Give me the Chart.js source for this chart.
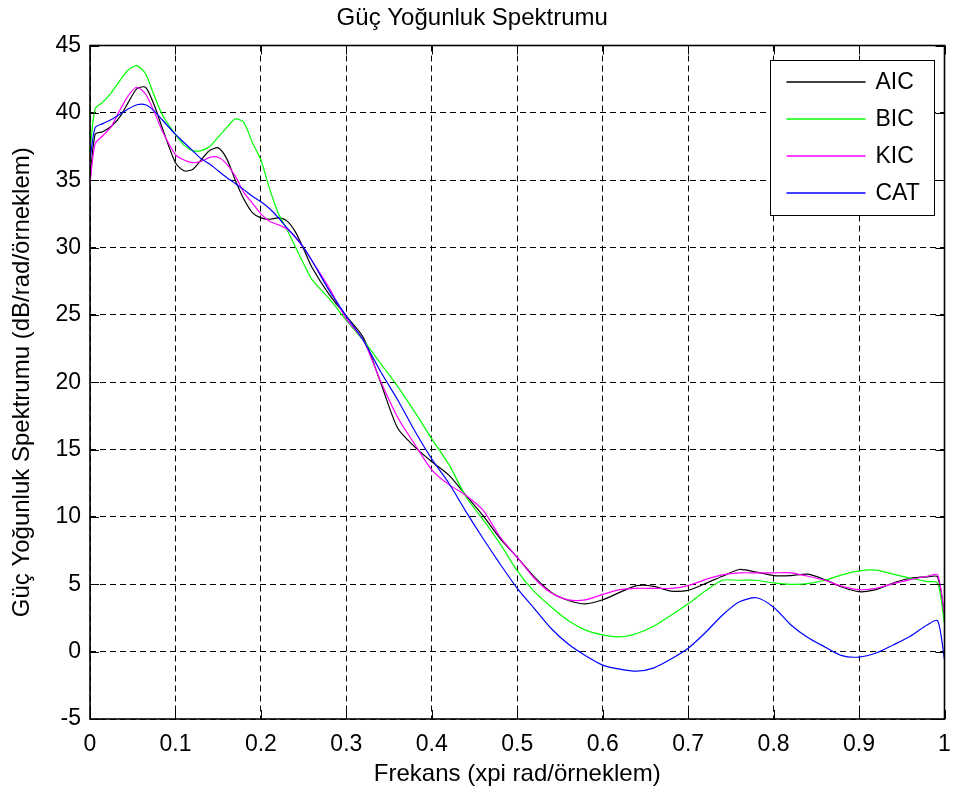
<!DOCTYPE html>
<html>
<head>
<meta charset="utf-8">
<script src="https://cdn.jsdelivr.net/npm/chart.js@4.4.0/dist/chart.umd.min.js"></script>
<style>
  html, body { margin: 0; padding: 0; background: #fff; }
</style>
</head>
<body>
<canvas id="psd" width="955" height="794"></canvas>
<script>
// frequency axis (x pi rad/sample)
const freq = [0, 0.006, 0.015, 0.025, 0.035, 0.045, 0.055, 0.065, 0.075, 0.085,
  0.1, 0.11, 0.12, 0.13, 0.14, 0.15, 0.16, 0.17, 0.18, 0.19, 0.2, 0.21, 0.22, 0.23, 0.24, 0.25, 0.26,
  0.28, 0.3, 0.32, 0.34, 0.36, 0.38, 0.4, 0.42, 0.44, 0.46, 0.48, 0.5, 0.52, 0.54, 0.56, 0.58,
  0.6, 0.62, 0.64, 0.66, 0.68, 0.7, 0.72, 0.74, 0.76, 0.78, 0.8, 0.82, 0.84, 0.86, 0.88,
  0.9, 0.92, 0.94, 0.96, 0.98, 0.992, 1.0];

// PSD values (dB/rad/sample) for each order selection criterion
const aic = [35.0, 38.4, 38.6, 39.0, 39.7, 40.8, 41.8, 41.9, 40.6, 38.8,
  36.3, 35.7, 35.8, 36.5, 37.2, 37.4, 36.6, 35.0, 33.6, 32.6, 32.2, 32.1, 32.2, 32.0, 31.2, 29.9, 28.5,
  26.5, 24.9, 23.3, 20.0, 16.6, 15.2, 14.1, 13.1, 11.6, 10.1, 8.4, 7.0, 5.55, 4.4, 3.8, 3.55,
  3.85, 4.4, 4.9, 4.85, 4.5, 4.55, 5.05, 5.6, 6.1, 5.9, 5.65, 5.65, 5.75, 5.35, 4.8,
  4.45, 4.6, 5.1, 5.45, 5.55, 5.55, 2.6];

const bic = [37.2, 40.3, 40.8, 41.5, 42.4, 43.2, 43.5, 42.9, 41.3, 39.8,
  38.4, 37.6, 37.2, 37.2, 37.5, 38.2, 38.9, 39.55, 39.3, 37.8, 36.5, 34.4, 32.6, 31.4, 30.1, 28.8, 27.6,
  26.2, 24.6, 23.1, 21.4, 19.7, 17.8, 15.8, 13.9, 11.5, 9.8, 8.0, 6.0, 4.45, 3.3, 2.3, 1.6,
  1.25, 1.1, 1.35, 1.9, 2.7, 3.55, 4.5, 5.3, 5.3, 5.3, 5.1, 5.0, 5.05, 5.3, 5.7,
  6.0, 6.05, 5.75, 5.45, 5.2, 5.1, 2.1];

const kic = [34.8, 37.7, 38.3, 39.0, 40.2, 41.3, 41.9, 41.4, 40.1, 38.6,
  36.9, 36.5, 36.3, 36.4, 36.7, 36.7, 36.2, 35.3, 34.1, 33.3, 32.5, 31.95, 31.7, 31.4, 30.8, 30.0, 29.0,
  27.0, 24.7, 23.1, 20.1, 17.4, 15.4, 13.5, 12.4, 11.6, 10.5, 8.5, 7.0, 5.45, 4.35, 3.85, 3.85,
  4.25, 4.6, 4.7, 4.7, 4.7, 4.9, 5.35, 5.7, 5.85, 5.85, 5.85, 5.85, 5.6, 5.3, 4.85,
  4.6, 4.7, 5.05, 5.35, 5.6, 5.7, 2.75];

const cat = [36.5, 38.9, 39.2, 39.5, 39.9, 40.3, 40.6, 40.6, 40.15, 39.45,
  38.4, 37.8, 37.2, 36.6, 36.2, 35.7, 35.2, 34.75, 34.3, 33.8, 33.4, 32.9, 32.25, 31.5, 30.8, 30.0, 29.0,
  26.8, 24.9, 23.1, 20.8, 18.7, 16.4, 14.3, 12.5, 10.4, 8.4, 6.5, 4.7, 3.2, 1.7, 0.55, -0.3,
  -1.0, -1.3, -1.45, -1.2, -0.55, 0.25, 1.4, 2.7, 3.7, 4.0, 3.3, 2.0, 1.05, 0.35, -0.3,
  -0.4, -0.1, 0.5, 1.15, 2.0, 2.3, -0.6];

const seriesNames = ['AIC', 'BIC', 'KIC', 'CAT'];
const seriesColors = ['#000000', '#00ff00', '#ff00ff', '#0000ff'];
const seriesValues = [aic, bic, kic, cat];

const FONT = 'Liberation Sans, Arial, Helvetica, sans-serif';
Chart.defaults.font.family = FONT;
Chart.defaults.color = '#000';

const pts = ys => freq.map((f, i) => ({x: f, y: ys[i]}));

// matlab style box, inside ticks and legend
const matlabFrame = {
  id: 'matlabFrame',
  afterDatasetsDraw(chart) {
    const {ctx, chartArea: a, scales: {x, y}} = chart;
    ctx.save();
    ctx.setLineDash([]);
    ctx.strokeStyle = '#000';
    ctx.lineWidth = 1;
    const tl = 9;
    ctx.beginPath();
    x.ticks.forEach(t => {
      const px = Math.round(x.getPixelForValue(t.value)) + 0.5;
      ctx.moveTo(px, a.bottom); ctx.lineTo(px, a.bottom - tl);
      ctx.moveTo(px, a.top); ctx.lineTo(px, a.top + tl);
    });
    y.ticks.forEach(t => {
      const py = Math.round(y.getPixelForValue(t.value)) + 0.5;
      ctx.moveTo(a.left, py); ctx.lineTo(a.left + tl, py);
      ctx.moveTo(a.right, py); ctx.lineTo(a.right - tl, py);
    });
    ctx.stroke();
    ctx.lineWidth = 1.6;
    ctx.strokeRect(a.left, a.top, a.right - a.left, a.bottom - a.top);

    // legend
    const bw = 164, bh = 155;
    const bx = Math.round(a.right - 11 - bw) + 0.5, by = Math.round(a.top + 14) + 0.5;
    ctx.fillStyle = '#fff';
    ctx.fillRect(bx, by, bw, bh);
    ctx.lineWidth = 1;
    ctx.strokeStyle = '#000';
    ctx.strokeRect(bx, by, bw, bh);
    ctx.font = '23px ' + FONT;
    ctx.textBaseline = 'middle';
    ctx.textAlign = 'left';
    seriesNames.forEach((name, i) => {
      const cy = Math.round(by + 21.5 + i * 37);
      ctx.strokeStyle = seriesColors[i];
      ctx.lineWidth = 1.3;
      ctx.beginPath();
      ctx.moveTo(bx + 16, cy); ctx.lineTo(bx + 95, cy);
      ctx.stroke();
      ctx.fillStyle = '#000';
      ctx.fillText(name, bx + 105, cy + 1);
    });
    ctx.restore();
  }
};

new Chart(document.getElementById('psd'), {
  type: 'line',
  data: {
    datasets: seriesNames.map((name, i) => ({
      label: name,
      data: pts(seriesValues[i]),
      borderColor: seriesColors[i],
      backgroundColor: seriesColors[i],
      borderWidth: 1.2,
      pointRadius: 0,
      tension: 0.25,
      fill: false,
      order: seriesNames.length - i
    }))
  },
  options: {
    responsive: false,
    animation: false,
    devicePixelRatio: 1,
    layout: {padding: {left: 0, right: 10.5, top: 0, bottom: 0}},
    plugins: {
      legend: {display: false},
      tooltip: {enabled: false},
      title: {
        display: true,
        text: 'Güç Yoğunluk Spektrumu',
        color: '#000',
        font: {size: 24, weight: 'normal', lineHeight: 1},
        padding: {top: 6, bottom: 15.5}
      }
    },
    scales: {
      x: {
        type: 'linear',
        min: 0, max: 1,
        afterFit: s => { s.height = 75; s.paddingLeft = 0; s.paddingRight = 0; },
        ticks: {
          stepSize: 0.1,
          padding: 12,
          color: '#000',
          font: {size: 23},
          maxRotation: 0,
          callback: v => String(Math.round(v * 10) / 10)
        },
        grid: {color: '#000', lineWidth: 1, drawTicks: false},
        border: {display: false, dash: [6, 4]},
        title: {
          display: true,
          text: 'Frekans (xpi rad/örneklem)',
          color: '#000',
          font: {size: 24},
          padding: {top: 0, bottom: 5}
        }
      },
      y: {
        min: -5, max: 45,
        afterFit: s => { s.width = 90; s.paddingTop = 0; s.paddingBottom = 0; },
        ticks: {
          stepSize: 5,
          padding: 9,
          color: '#000',
          font: {size: 23}
        },
        grid: {color: '#000', lineWidth: 1, drawTicks: false},
        border: {display: false, dash: [6, 4]},
        title: {
          display: true,
          text: 'Güç Yoğunluk Spektrumu (dB/rad/örneklem)',
          color: '#000',
          font: {size: 24},
          padding: {top: 8, bottom: 0}
        }
      }
    }
  },
  plugins: [matlabFrame]
});
</script>
</body>
</html>
